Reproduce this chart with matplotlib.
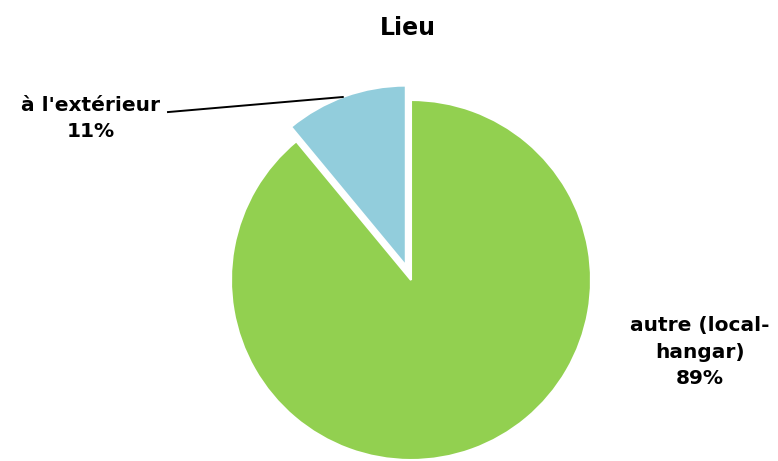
import numpy as np
import matplotlib
matplotlib.use("Agg")
from matplotlib import pyplot as plt

# data
labels = ["à l'extérieur", "autre (local-\nhangar)"]
values = [11, 89]
colors = ["#92CDDC", "#92D050"]
explode = [0.085, 0]

plt.rcParams['font.family'] = ['DejaVu Sans']

fig = plt.figure(figsize=(7.78, 4.61), dpi=100)
ax = fig.add_axes([0, 0, 1, 1])

wedges, _ = ax.pie(values, colors=colors, explode=explode, startangle=90,
                   counterclock=True, radius=1.0,
                   wedgeprops=dict(edgecolor='white', linewidth=1.5))

ax.set_xlim(-411 / 180, 367 / 180)
ax.set_ylim(-181 / 180, 280 / 180)
ax.set_aspect('equal')
ax.axis('off')

pcts = [f"{v}%" for v in values]

# label for the small slice, with leader line to its outer arc
w = wedges[0]
ang = np.deg2rad(110.5)
px = w.center[0] + w.r * np.cos(ang)
py = w.center[1] + w.r * np.sin(ang)
ax.plot([-1.35, px], [0.933, py], color='black', lw=1.4)
ax.text(-1.778, 0.897, labels[0] + "\n" + pcts[0], ha='center', va='center',
        fontsize=14.5, fontweight='bold', linespacing=1.5)

ax.text(1.606, -0.40, labels[1] + "\n" + pcts[1], ha='center', va='center',
        fontsize=14.5, fontweight='bold', linespacing=1.5)

fig.text(408 / 778, 1 - 28 / 461, "Lieu", ha='center', va='center',
         fontsize=17, fontweight='bold')

fig.savefig("out.png", dpi=100)
